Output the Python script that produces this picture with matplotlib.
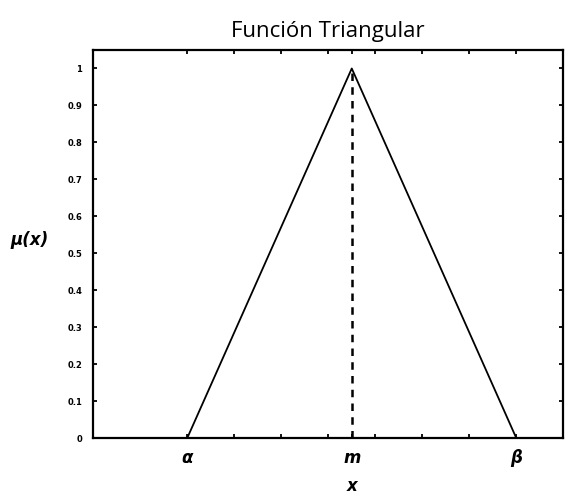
import numpy as np
import matplotlib.pyplot as plt

# Triangular membership function parameters
a, m, b = 2.0, 5.5, 9.0
x_pts = [a, m, b]
mu_pts = [0.0, 1.0, 0.0]

xtick_pos = [a, m, b]
xtick_labels = ['α', 'm', 'β']
minor_x = [3, 4, 5, 6, 7, 8]
ytick_pos = [0, 0.1, 0.2, 0.3, 0.4, 0.5, 0.6, 0.7, 0.8, 0.9, 1]
ytick_labels = ['0', '0.1', '0.2', '0.3', '0.4', '0.5', '0.6', '0.7', '0.8', '0.9', '1']

fig = plt.figure(figsize=(5.65, 4.95), dpi=100)
ax = fig.add_axes([0.165, 0.115, 0.832, 0.784])

ax.plot(x_pts, mu_pts, color='black', lw=1.3)
ax.plot([m, m], [0, 1], color='black', lw=1.8, ls=(0, (3, 2.5)))

ax.set_xlim(0, 10)
ax.set_ylim(0, 1.05)

ax.set_xticks(xtick_pos)
ax.set_xticklabels(xtick_labels, fontsize=12, fontweight='bold',
                   fontstyle='italic')
ax.set_xticks(minor_x, minor=True)
ax.set_yticks(ytick_pos)
ax.set_yticklabels(ytick_labels, fontsize=6, fontweight='bold')

ax.tick_params(which='both', direction='in', top=True, right=True,
               width=1.3, length=3)
ax.tick_params(axis='x', which='major', pad=8)
ax.tick_params(axis='y', which='major', pad=8)
for s in ax.spines.values():
    s.set_linewidth(1.6)

ax.set_title('Función Triangular', fontsize=16, family='Open Sans', pad=9)
ax.set_ylabel('μ(x)', fontsize=12, rotation=0, fontweight='bold',
              fontstyle='italic', va='center', ha='center')
ax.yaxis.set_label_coords(-0.135, 0.51)
ax.set_xlabel('x', fontsize=12, fontweight='bold', fontstyle='italic',
              va='top')
ax.xaxis.set_label_coords(0.55, -0.1)

fig.savefig('out.png', dpi=100)
